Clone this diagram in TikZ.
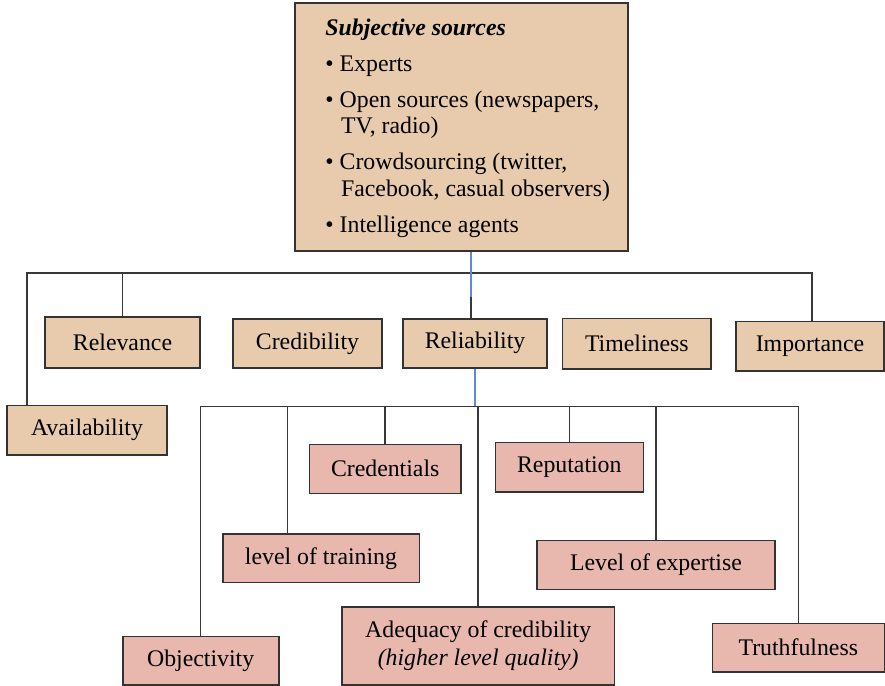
\documentclass[tikz,border=0pt]{standalone}
\usepackage{fontspec}
\setmainfont{Liberation Serif}
\definecolor{tanfill}{HTML}{E8CBAC}
\definecolor{pinkfill}{HTML}{E8B8AE}
\definecolor{boxline}{HTML}{333333}
\definecolor{linkgray}{HTML}{383838}
\definecolor{linkblue}{HTML}{5B8BD0}
\begin{document}
\begin{tikzpicture}[x=0.5pt,y=-0.5pt,
  every node/.style={font=\fontsize{11.9}{14}\selectfont, inner sep=0pt},
  box/.style={draw=boxline, line width=0.8pt, align=center},
  tanbox/.style={box, fill=tanfill},
  pinkbox/.style={box, fill=pinkfill},
  sz/.style 2 args={minimum width={#1*0.5pt}, minimum height={#2*0.5pt}},
  link/.style={draw=linkgray, line width=0.75pt},
  bluelink/.style={draw=linkblue, line width=0.75pt},
  txt/.style={anchor=base west}]
\useasboundingbox (0,0) rectangle (885,686);

% source box with its list
\node[tanbox, sz={333}{248}] (src) at (461.5,127) {};
\node[txt] (t0) at (325,35) {\textbf{\textit{Subjective sources}}};
\node[txt] (t1) at (325,71) {• Experts};
\node[txt] (t2) at (325,107) {• Open sources (newspapers,};
\node[txt] (t3) at (340.7,133) {TV, radio)};
\node[txt] (t4) at (325,169) {• Crowdsourcing (twitter,};
\node[txt] (t5) at (340.7,196) {Facebook, casual observers)};
\node[txt] (t6) at (325,232) {• Intelligence agents};

% first level qualities
\node[tanbox, sz={160}{49.4}]  (avail) at (87,430.3)    {Availability};
\node[tanbox, sz={155}{51}]    (relev) at (122.5,342.5) {Relevance};
\node[tanbox, sz={149}{49}]    (cred)  at (307.5,343.5) {Credibility};
\node[tanbox, sz={144}{49}]    (reli)  at (475,343.2)   {Reliability};
\node[tanbox, sz={148.3}{50.3}](time)  at (636.8,343.8) {Timeliness};
\node[tanbox, sz={148}{49.3}]  (imp)   at (810,346.3)   {Importance};

% reliability attributes
\node[pinkbox, sz={151.7}{49}]  (credn) at (385.2,468.8) {Credentials};
\node[pinkbox, sz={196.6}{48.7}](train) at (321,558.3)   {level of training};
\node[pinkbox, sz={156}{48.3}]  (obj)   at (200.7,660.8) {Objectivity};
\node[pinkbox, sz={272.3}{78}]  (adeq)  at (478.2,646)   {Adequacy of credibility\\\textit{(higher level quality)}};
\node[pinkbox, sz={148}{49.4}]  (repu)  at (569.3,467)   {Reputation};
\node[pinkbox, sz={238}{49}]    (expt)  at (656,564.8)   {Level of expertise};
\node[pinkbox, sz={172}{48.7}]  (truth) at (798.3,647.7) {Truthfulness};

% upper bar
\coordinate (barL) at (27,273);
\coordinate (barR) at (812,273);
\coordinate (j1) at (471,297);
\draw[link] (barL |- avail.north) -- (barL) -- (barR) -- (barR |- imp.north);
\draw[link] (relev.north) -- (relev.north |- barL);
\draw[bluelink] (j1 |- src.south) -- (j1);
\draw[link] (j1) -- (j1 |- reli.north);

% lower bar
\coordinate (j2) at (475,406.7);
\coordinate (lowL) at (200.7,406.7);
\coordinate (lowR) at (798.7,406.7);
\coordinate (trainx) at (287.3,406.7);
\draw[bluelink] (j2 |- reli.south) -- (j2);
\draw[link] (obj.north) -- (lowL) -- (lowR) -- (lowR |- truth.north);
\draw[link] (trainx) -- (trainx |- train.north);
\draw[link] (credn.north) -- (credn.north |- j2);
\draw[link] (adeq.north) -- (adeq.north |- j2);
\draw[link] (repu.north) -- (repu.north |- j2);
\draw[link] (expt.north) -- (expt.north |- j2);
\end{tikzpicture}
\end{document}
